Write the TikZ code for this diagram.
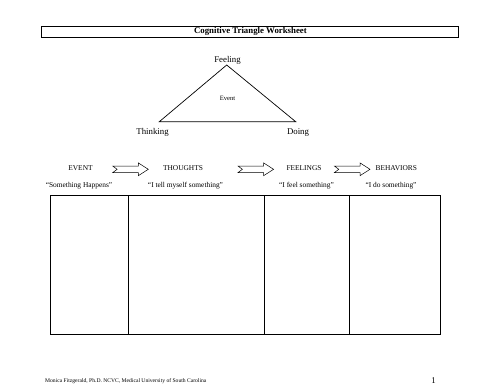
\documentclass[tikz,border=0pt]{standalone}
\usepackage{fontspec}
\setmainfont{Liberation Serif}
\usetikzlibrary{positioning}
\tikzset{
  wtitle/.style={draw,line width=0.9pt,minimum width=417pt,minimum height=11.3pt,
    inner sep=0pt,font=\bfseries\fontsize{8.8}{10}\selectfont},
  wlabel/.style={inner sep=0pt,font=\fontsize{8.8}{10}\selectfont},
  wsmall/.style={inner sep=0pt,font=\fontsize{6.6}{8}\selectfont},
  wstage/.style={inner sep=0pt,font=\fontsize{7.4}{9}\selectfont},
  wcol/.style={draw,line width=0.9pt,minimum height=139pt,anchor=north west,
    inner sep=0pt,outer sep=0pt},
  wfoot/.style={inner sep=0pt,font=\fontsize{5.6}{7}\selectfont},
  wtri/.style={line width=0.7pt},
  notcharrow/.pic={
    \draw[line width=0.5pt,fill=white] (-17.8,-3.3) -- (7.8,-3.3) -- (7.8,-6.4) -- (17.8,0)
      -- (7.8,6.4) -- (7.8,3.3) -- (-17.8,3.3) -- (-13.4,0) -- cycle;
  },
}
\begin{document}
\begin{tikzpicture}[x=1pt,y=-1pt]
\useasboundingbox (0,0) rectangle (500,386);
% heading
\node[wtitle] (head) at (250.4,31.7) {Cognitive Triangle Worksheet};
% triangle
\coordinate (apex) at (226.7,65);
\coordinate (leftc) at (159.3,121.7);
\coordinate (rightc) at (295.7,121.7);
\draw[wtri] (apex) -- (leftc) -- (rightc) -- cycle;
\node[wlabel] (feel) at (227.5,60.5) {Feeling};
\node[wsmall] (evt) at (227.5,98) {Event};
\node[wlabel] (think) at (152.6,132.7) {Thinking};
\node[wlabel] (doing) at (298,132.7) {Doing};
% stages
\node[wstage] (sevent) at (80.5,168.5) {EVENT};
\node[wstage] (sthought) at (183,168.5) {THOUGHTS};
\node[wstage] (sfeel) at (304,168.5) {FEELINGS};
\node[wstage] (sbehav) at (396.3,168.5) {BEHAVIORS};
\pic at (130.5,169.3) {notcharrow};
\pic at (255.8,169.3) {notcharrow};
\pic at (352.2,169.3) {notcharrow};
\node[wstage] (qevent) at (79,186) {``Something Happens''};
\node[wstage] (qthought) at (185.5,186) {``I tell myself something''};
\node[wstage] (qfeel) at (306.5,186) {``I feel something''};
\node[wstage] (qbehav) at (391,186) {``I do something''};
% columns
\node[wcol,minimum width=78pt] (cevent) at (50.3,195.3) {};
\node[wcol,minimum width=136pt] (cthought) at (cevent.north east) {};
\node[wcol,minimum width=85pt] (cfeel) at (cthought.north east) {};
\node[wcol,minimum width=91.4pt] (cbehav) at (cfeel.north east) {};
% footer
\node[wfoot,anchor=west] (foot) at (45,381) {Monica Fitzgerald, Ph.D. NCVC, Medical University of South Carolina};
\node[wlabel] (page) at (433.5,380.5) {1};
\end{tikzpicture}
\end{document}
